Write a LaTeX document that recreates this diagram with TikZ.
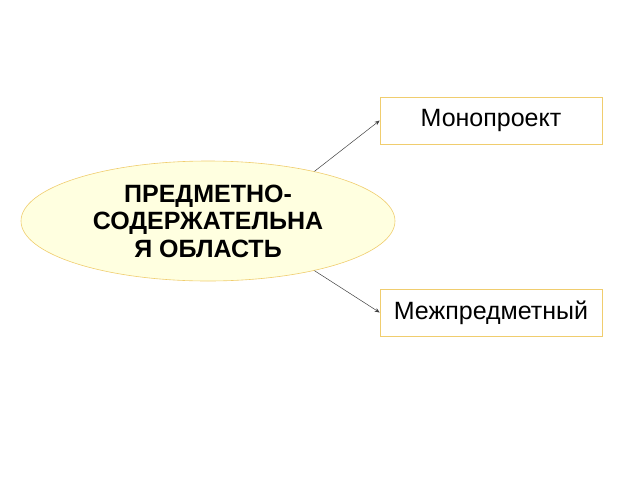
\documentclass[tikz,border=0pt]{standalone}
\usepackage{fontspec}
\setmainfont{Liberation Sans}
\usetikzlibrary{arrows.meta,shapes.geometric}
\definecolor{rimyellow}{RGB}{240,205,110}
\definecolor{pale}{RGB}{255,255,224}
\begin{document}
\begin{tikzpicture}[x=1pt,y=-1pt,
  area/.style={ellipse,draw=rimyellow,fill=pale,line width=0.6pt,minimum width=374pt,minimum height=120pt,inner sep=0pt,align=center,font=\fontsize{25}{27.5}\selectfont\bfseries},
  kind/.style={rectangle,draw=rimyellow,fill=white,line width=0.6pt,minimum width=222pt,minimum height=47pt,inner sep=0pt,font=\fontsize{25}{27}\selectfont},
  link/.style={-{Stealth[length=5pt,width=4pt]},draw=black!75,line width=0.5pt}]
\useasboundingbox (0,0) rectangle (640,480);
\node[area] (field) at (208,221) {ПРЕДМЕТНО-\\СОДЕРЖАТЕЛЬНА\\Я ОБЛАСТЬ};
\node[kind] (mono) at (491,120.5) {Монопроект};
\node[kind] (inter) at (491,312.5) {Межпредметный};
\draw[link] (field.25) -- (mono.west);
\draw[link] (field.-25) -- (inter.west);
\end{tikzpicture}
\end{document}
